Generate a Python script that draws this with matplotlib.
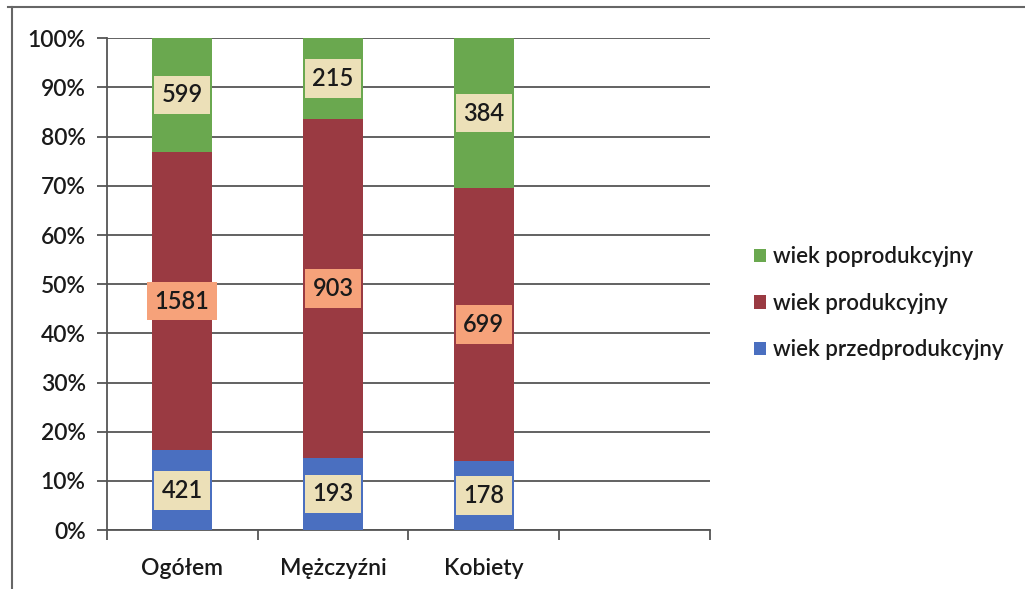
import matplotlib.pyplot as plt
import numpy as np
from matplotlib.lines import Line2D

plt.rcParams['font.family'] = ['Lato', 'DejaVu Sans']

kategorie = ['Ogółem', 'Mężczyźni', 'Kobiety']
przedprod = [421, 193, 178]
prod = [1581, 903, 699]
poprod = [599, 215, 384]

serie = [
    ('wiek przedprodukcyjny', przedprod, '#4a6fc0', '#ece0b8'),
    ('wiek produkcyjny', prod, '#9a3a42', '#f6a27a'),
    ('wiek poprodukcyjny', poprod, '#6aa84f', '#ece0b8'),
]

suma = np.array(przedprod) + np.array(prod) + np.array(poprod)
x = np.arange(len(kategorie))

fig = plt.figure(figsize=(10.25, 5.89), dpi=100)
ax = fig.add_axes([0.104, 0.100, 0.589, 0.835])

dol = np.zeros(len(kategorie))
uchwyty = []
for nazwa, vals, kolor, tlo in serie:
    udz = np.array(vals) / suma * 100
    bars = ax.bar(x, udz, 0.4, bottom=dol, color=kolor, zorder=3)
    for xi, b, h, v in zip(x, dol, udz, vals):
        ax.text(xi, b + h / 2, str(v), ha='center', va='center', fontsize=17,
                color='#1a1a1a', weight='semibold', zorder=5,
                bbox=dict(boxstyle='square,pad=0.33', fc=tlo, ec='none'))
    dol += udz
    uchwyty.append(bars)

ax.set_xlim(-0.5, 3.5)
ax.set_ylim(0, 100)
ax.set_yticks(np.arange(0, 101, 10))
ax.set_yticklabels([f'{t}%' for t in range(0, 101, 10)], fontsize=16.5,
                   color='#1a1a1a', weight='semibold')
ax.set_xticks(x)
ax.set_xticklabels(kategorie, fontsize=16.5, color='#1a1a1a', weight='semibold')
ax.set_xticks(np.arange(-0.5, 3.6, 1), minor=True)
ax.tick_params(axis='x', which='major', length=0, pad=20)
ax.tick_params(axis='x', which='minor', length=7, width=1.3, color='#555555', direction='out')
ax.tick_params(axis='y', length=7, width=1.3, color='#555555', pad=8)
ax.yaxis.grid(True, color='#555555', lw=1.3, zorder=0)
for s in ['top', 'right']:
    ax.spines[s].set_visible(False)
for s in ['left', 'bottom']:
    ax.spines[s].set_color('#555555')
    ax.spines[s].set_linewidth(1.3)

h = [uchwyty[2], uchwyty[1], uchwyty[0]]
l = [serie[2][0], serie[1][0], serie[0][0]]
fig.legend(h, l, loc='center left', bbox_to_anchor=(0.716, 0.485), frameon=False,
           prop={'size': 16, 'weight': 'semibold'}, handlelength=0.55, handleheight=0.55,
           handletextpad=0.3, labelspacing=1.15, labelcolor='#1a1a1a')

# ramka skanu: góra i lewa krawędź
fig.add_artist(Line2D([0.008, 1.0], [0.988, 0.988], color='#666666', lw=1.5))
fig.add_artist(Line2D([0.012, 0.012], [0.0, 0.988], color='#666666', lw=1.5))

fig.savefig('out.png', dpi=100)
